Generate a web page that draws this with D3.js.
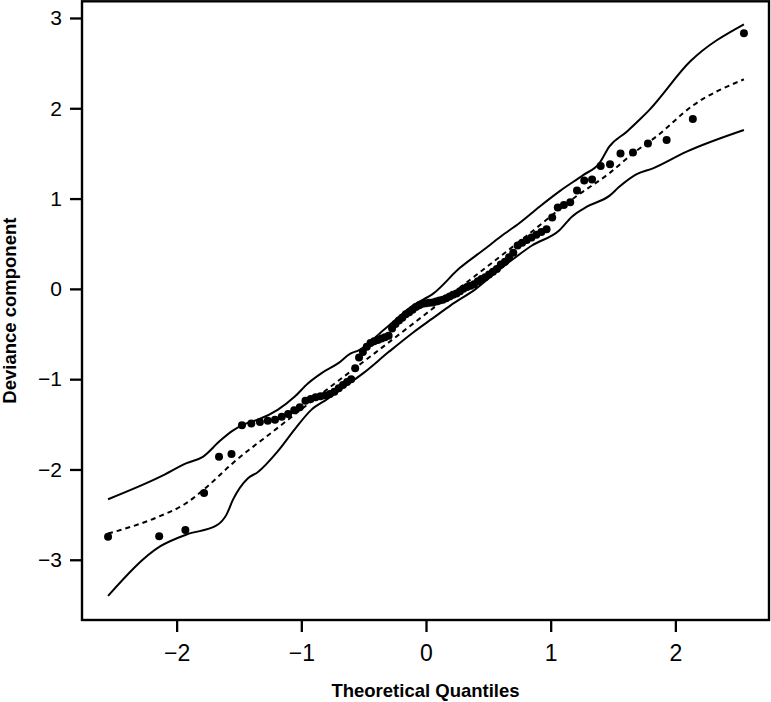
<!DOCTYPE html>
<html>
<head>
<meta charset="utf-8">
<script src="https://cdn.jsdelivr.net/npm/d3@7"></script>
<style>
  body { margin: 0; background: #fff; }
  svg text { font-family: "Liberation Sans", Arial, sans-serif; fill: #000; }
</style>
</head>
<body>
<div id="chart"></div>
<script>
// theoretical quantiles (x) and sorted deviance components (y)
var quantiles = [-2.55, -2.14, -1.93, -1.78, -1.66, -1.56, -1.476, -1.401, -1.332, -1.269,
    -1.211, -1.157, -1.106, -1.057, -1.012, -0.967, -0.925, -0.885, -0.846, -0.808,
    -0.771, -0.735, -0.700, -0.666, -0.633, -0.600, -0.568, -0.537, -0.506, -0.475,
    -0.445, -0.416, -0.386, -0.357, -0.329, -0.300, -0.272, -0.245, -0.217, -0.190,
    -0.162, -0.135, -0.108, -0.081, -0.054, -0.027, 0, 0.027, 0.054, 0.081,
    0.108, 0.135, 0.162, 0.190, 0.217, 0.245, 0.272, 0.300, 0.329, 0.357,
    0.386, 0.416, 0.445, 0.475, 0.506, 0.537, 0.568, 0.600, 0.633, 0.666,
    0.700, 0.735, 0.771, 0.808, 0.846, 0.885, 0.925, 0.967, 1.012, 1.057,
    1.106, 1.157, 1.211, 1.269, 1.332, 1.401, 1.476, 1.56, 1.66, 1.78,
    1.93, 2.14, 2.55];
var residuals = [-2.745, -2.74, -2.67, -2.26, -1.86, -1.83, -1.51, -1.49, -1.475, -1.46,
    -1.45, -1.415, -1.385, -1.345, -1.31, -1.24, -1.22, -1.20, -1.19, -1.18,
    -1.165, -1.14, -1.10, -1.065, -1.03, -1.00, -0.88, -0.76, -0.70, -0.64,
    -0.60, -0.58, -0.565, -0.55, -0.535, -0.52, -0.44, -0.39, -0.35, -0.32,
    -0.28, -0.26, -0.23, -0.20, -0.18, -0.165, -0.16, -0.155, -0.15, -0.14,
    -0.13, -0.12, -0.105, -0.085, -0.065, -0.05, -0.025, 0.0, 0.02, 0.035,
    0.05, 0.085, 0.11, 0.13, 0.16, 0.19, 0.22, 0.27, 0.30, 0.35,
    0.40, 0.48, 0.51, 0.54, 0.57, 0.60, 0.63, 0.66, 0.79, 0.90,
    0.93, 0.96, 1.09, 1.20, 1.21, 1.36, 1.38, 1.50, 1.51, 1.61,
    1.65, 1.88, 2.83];

// simulation envelope
var upperQ = [-2.55, -2.13, -1.92, -1.79, -1.65, -1.55, -1.44, -1.35, -1.19, -1.05,
    -0.95, -0.84, -0.70, -0.61, -0.54, -0.34, -0.10, 0.06, 0.27, 0.46,
    0.60, 0.75, 0.91, 1.07, 1.26, 1.39, 1.47, 1.61, 1.71, 1.79, 2.12, 2.55];
var upperV = [-2.33, -2.08, -1.93, -1.86, -1.68, -1.57, -1.49, -1.45, -1.34, -1.19,
    -1.05, -0.935, -0.82, -0.72, -0.68, -0.455, -0.18, -0.05, 0.23, 0.43,
    0.58, 0.73, 0.91, 1.08, 1.26, 1.39, 1.575, 1.74, 1.87, 1.98, 2.52, 2.93];
var lowerQ = [-2.55, -2.13, -1.92, -1.68, -1.60, -1.55, -1.43, -1.35, -1.19, -1.05,
    -0.92, -0.79, -0.65, -0.50, -0.30, -0.10, 0.05, 0.20, 0.40, 0.55,
    0.67, 0.85, 1.07, 1.17, 1.29, 1.47, 1.55, 1.69, 1.82, 2.09, 2.55];
var lowerV = [-3.40, -2.85, -2.72, -2.62, -2.50, -2.34, -2.10, -2.03, -1.80, -1.55,
    -1.34, -1.22, -1.08, -0.93, -0.70, -0.48, -0.33, -0.18, 0.00, 0.17,
    0.30, 0.48, 0.65, 0.80, 0.91, 1.03, 1.13, 1.27, 1.335, 1.52, 1.76];
var midQ = [-2.55, -2.14, -1.93, -1.78, -1.55, -1.2, -0.8, -0.4, 0, 0.4,
    0.8, 1.2, 1.47, 1.66, 1.85, 2.14, 2.55];
var midV = [-2.71, -2.52, -2.38, -2.22, -1.93, -1.55, -1.12, -0.70, -0.275, 0.15,
    0.58, 1.02, 1.28, 1.50, 1.69, 2.03, 2.32];

var xTicks = [-2, -1, 0, 1, 2];
var yTicks = [-3, -2, -1, 0, 1, 2, 3];

var width = 771, height = 702;
var plotL = 82, plotR = 769, plotT = 1.3, plotB = 620;

var svg = d3.select("#chart").append("svg")
        .attr("width", width)
        .attr("height", height);

var x = d3.scaleLinear().domain([-2.759, 2.751]).range([plotL, plotR]);
var y = d3.scaleLinear().domain([-3.667, 3.188]).range([plotB, 1]);

function fmt(d) {
    return d < 0 ? "\u2212" + Math.abs(d) : String(d);
}

// axes
var gx = svg.append("g")
        .attr("transform", "translate(0," + plotB + ")")
        .call(d3.axisBottom(x).tickValues(xTicks).tickFormat(fmt).tickSize(12).tickPadding(13));
var gy = svg.append("g")
        .attr("transform", "translate(" + plotL + ",0)")
        .call(d3.axisLeft(y).tickValues(yTicks).tickFormat(fmt).tickSize(12).tickPadding(8));
[gx, gy].forEach(function (g) {
    g.select(".domain").remove();
    g.selectAll("line").attr("stroke", "#000").attr("stroke-width", 2.3);
});
gx.selectAll("text").style("font-size", "23px");
gy.selectAll("text").style("font-size", "21px");

// frame
svg.append("rect")
        .attr("x", plotL)
        .attr("y", plotT)
        .attr("width", plotR - plotL)
        .attr("height", plotB - plotT)
        .attr("fill", "none")
        .attr("stroke", "#000")
        .attr("stroke-width", 2.4);

// envelope lines
function lineOf(qs, vs) {
    return d3.line()
            .x(function (d, i) { return x(qs[i]); })
            .y(function (d) { return y(d); })
            .curve(d3.curveMonotoneX)(vs);
}
svg.append("path")
        .attr("d", lineOf(upperQ, upperV))
        .attr("fill", "none").attr("stroke", "#000").attr("stroke-width", 2);
svg.append("path")
        .attr("d", lineOf(lowerQ, lowerV))
        .attr("fill", "none").attr("stroke", "#000").attr("stroke-width", 2);
svg.append("path")
        .attr("d", lineOf(midQ, midV))
        .attr("fill", "none").attr("stroke", "#000").attr("stroke-width", 2)
        .attr("stroke-dasharray", "5,4");

// points
svg.append("g").selectAll("circle")
        .data(residuals)
        .enter()
        .append("circle")
        .attr("cx", function (d, i) { return x(quantiles[i]); })
        .attr("cy", function (d) { return y(d); })
        .attr("r", 4)
        .attr("fill", "#000");

// axis titles
svg.append("text")
        .attr("x", (plotL + plotR) / 2)
        .attr("y", 697)
        .attr("text-anchor", "middle")
        .style("font-size", "18.5px")
        .style("font-weight", "bold")
        .text("Theoretical Quantiles");
svg.append("text")
        .attr("transform", "translate(16," + ((plotT + plotB) / 2) + ") rotate(-90)")
        .attr("text-anchor", "middle")
        .style("font-size", "18.5px")
        .style("font-weight", "bold")
        .text("Deviance component");
</script>
</body>
</html>
